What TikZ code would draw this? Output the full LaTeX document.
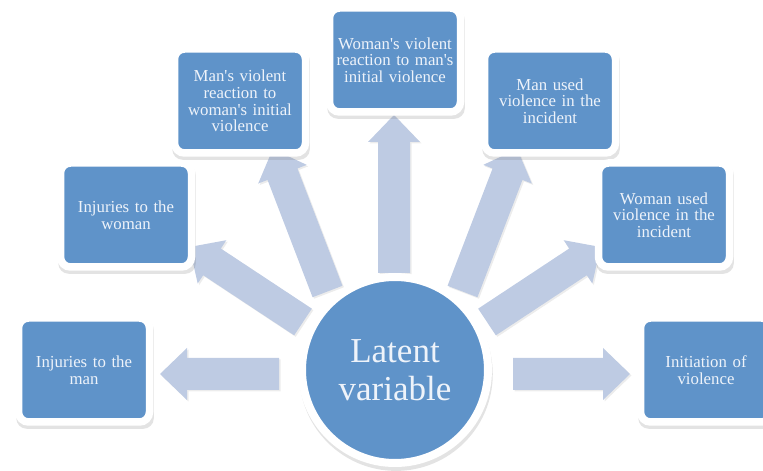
\documentclass[tikz,border=0pt]{standalone}
\usepackage{fontspec}
\setmainfont{Liberation Serif}[Ligatures=TeXOff]
\usetikzlibrary{calc,shadows}

\definecolor{boxblue}{HTML}{5F93C9}
\definecolor{spokeblue}{HTML}{BECBE3}
\definecolor{boxtext}{HTML}{EEF3FA}

\newcommand{\spokearrow}[2]{%
  \coordinate (hb) at ($(#2)!27pt!(#1)$);
  \fill[spoke] ($(#1)!16pt!90:(#2)$) -- ($(hb)!16pt!90:(#2)$) -- ($(hb)!26pt!90:(#2)$)
    -- (#2) -- ($(hb)!26pt!-90:(#2)$) -- ($(hb)!16pt!-90:(#2)$) -- ($(#1)!16pt!-90:(#2)$) -- cycle;
}

\begin{document}
\begin{tikzpicture}[x=1pt, y=1pt,
    item/.style={draw=white, line width=7.5pt, fill=boxblue, rounded corners=10pt,
      minimum width=131pt, minimum height=104pt, inner sep=0pt, text width=124pt, align=center,
      text=boxtext, font=\fontsize{16.8}{16.7}\selectfont,
      drop shadow={opacity=0.22, shadow scale=1.05, shadow xshift=1pt, shadow yshift=-4pt}},
    hubnode/.style={circle, draw=white, line width=8pt, fill=boxblue, minimum size=186pt,
      align=center, text=boxtext, font=\fontsize{35}{37.5}\selectfont,
      drop shadow={opacity=0.22, shadow scale=1.04, shadow xshift=1pt, shadow yshift=-4pt}},
    spoke/.style={fill=spokeblue, drop shadow={opacity=0.15, shadow xshift=1.5pt, shadow yshift=-1.5pt}}
]
\useasboundingbox (0,0) rectangle (763,471);
\clip (0,0) rectangle (763,471);

\coordinate (a1s) at (279,97);    \coordinate (a1e) at (160,97);
\coordinate (a2s) at (303,149);   \coordinate (a2e) at (189.5,224);
\coordinate (a3s) at (327.5,179.5); \coordinate (a3e) at (272.8,322);
\coordinate (a4s) at (394,198);   \coordinate (a4e) at (394,356);
\coordinate (a5s) at (462.5,179.5); \coordinate (a5e) at (517.2,322);
\coordinate (a6s) at (487,149);   \coordinate (a6e) at (600.5,224);
\coordinate (a7s) at (513,97);    \coordinate (a7e) at (630,97);

\spokearrow{a1s}{a1e}
\spokearrow{a2s}{a2e}
\spokearrow{a3s}{a3e}
\spokearrow{a4s}{a4e}
\spokearrow{a5s}{a5e}
\spokearrow{a6s}{a6e}
\spokearrow{a7s}{a7e}

\node[hubnode] (hub) at (395,101) {Latent\\variable};

\node[item] (manhurt) at (84,101) {Injuries to the\\man};
\node[item] (womanhurt) at (126,256) {Injuries to the\\woman};
\node[item] (manreact) at (240,370) {Man's violent\\reaction to\\woman's initial\\violence};
\node[item] (womanreact) at (395,411) {Woman's violent\\reaction to man's\\initial violence};
\node[item] (manused) at (550,370) {Man used\\violence in the\\incident};
\node[item] (womanused) at (664,256) {Woman used\\violence in the\\incident};
\node[item] (initiation) at (706,101) {Initiation of\\violence};
\end{tikzpicture}
\end{document}
